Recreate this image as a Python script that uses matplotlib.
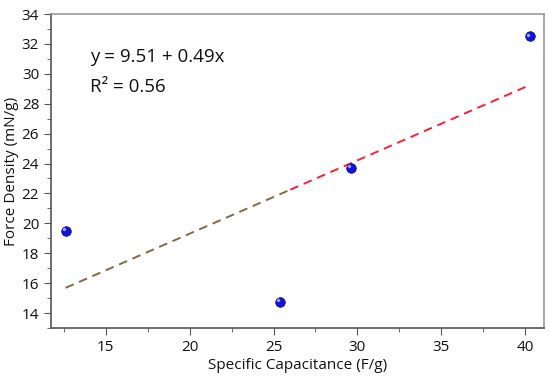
import numpy as np
import matplotlib
matplotlib.use("Agg")
import matplotlib.pyplot as plt

# data
capacitance = [12.6, 25.4, 29.6, 40.3]
force_density = [19.5, 14.75, 23.7, 32.5]

# linear fit shown on the chart
intercept = 9.51
slope = 0.49
r_squared = 0.56
colour_split = 26.0  # fit line turns from brown to red here

plt.rcParams['font.family'] = ['Open Sans', 'DejaVu Sans']

fig = plt.figure(figsize=(5.5, 3.79), dpi=100)
ax = fig.add_axes([51 / 550, 1 - 328 / 379, (544 - 51) / 550, (328 - 14) / 379])

# fit line, two colours
x_lo = np.linspace(min(capacitance), colour_split, 50)
x_hi = np.linspace(colour_split, max(capacitance), 50)
dash = {'linestyle': (0, (4.5, 3)), 'linewidth': 1.4}
ax.plot(x_lo, intercept + slope * x_lo, color='#7f6a45', **dash)
ax.plot(x_hi, intercept + slope * x_hi, color='#ff1f35', **dash)

# spheres: dark blue disc plus a small highlight
ax.scatter(capacitance, force_density, s=48, color='#1212d8', zorder=3,
           edgecolors='#0a0a90', linewidths=0.5)
ax.scatter(np.array(capacitance) - 0.12, np.array(force_density) + 0.12,
           s=6, color='#9aa0ff', zorder=4, linewidths=0)

ax.set_xlim(11.73, 41.13)
ax.set_ylim(13, 34)
ax.set_xticks([15, 20, 25, 30, 35, 40])
ax.set_yticks(range(14, 35, 2))
ax.set_xticks(np.arange(12.5, 41, 2.5), minor=True)
ax.set_yticks(range(13, 35, 1), minor=True)

for side in ['top', 'right', 'left', 'bottom']:
    ax.spines[side].set_color('#999999')
    ax.spines[side].set_linewidth(1.2)
ax.spines['left'].set_color('#555555')
ax.spines['bottom'].set_color('#555555')

ax.tick_params(which='both', direction='out', colors='#555555',
               labelcolor='#111111', top=False, right=False)
ax.tick_params(which='major', length=5, labelsize=11)
ax.tick_params(which='minor', length=3)

ax.set_xlabel('Specific Capacitance (F/g)', fontsize=11, color='#111111', labelpad=2)
ax.set_ylabel('Force Density (mN/g)', fontsize=11, color='#111111', labelpad=2)

ax.text(14.05, 31.15, 'y = %.2f + %.2fx' % (intercept, slope), fontsize=13.5,
        va='center', color='#111111')
ax.text(14.05, 29.15, 'R² = %.2f' % r_squared, fontsize=13.5,
        va='center', color='#111111')

plt.savefig('out.png', dpi=100)
